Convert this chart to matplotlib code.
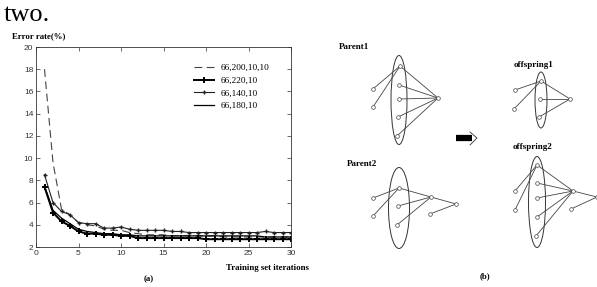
"""plot.py

Error rate vs training set iterations (a) and crossover sketch (b).
"""

import matplotlib

matplotlib.use("Agg")
import matplotlib.pyplot as plt
from matplotlib.patches import Ellipse

# ---- data for panel (a) ----
iterations = list(range(1, 31))
err_200_10_10 = [18.0, 9.6, 5.4, 4.9, 4.2, 4.0, 3.9, 3.6, 3.5, 3.5,
                 3.3, 3.2, 3.1, 3.1, 3.1, 3.0, 3.0, 3.0, 3.0, 3.0,
                 3.0, 2.9, 2.9, 2.9, 2.9, 2.9, 2.9, 2.9, 2.9, 2.9]
err_220_10 = [7.4, 5.1, 4.3, 3.9, 3.4, 3.2, 3.2, 3.1, 3.1, 3.0,
              3.0, 2.8, 2.8, 2.8, 2.8, 2.8, 2.8, 2.8, 2.8, 2.7,
              2.7, 2.7, 2.7, 2.7, 2.7, 2.7, 2.7, 2.7, 2.7, 2.7]
err_140_10 = [8.5, 6.0, 5.2, 4.9, 4.2, 4.1, 4.1, 3.7, 3.7, 3.8,
              3.6, 3.5, 3.5, 3.5, 3.5, 3.4, 3.4, 3.3, 3.3, 3.3,
              3.3, 3.3, 3.3, 3.3, 3.3, 3.3, 3.4, 3.3, 3.3, 3.3]
err_180_10 = [7.5, 5.3, 4.6, 4.1, 3.6, 3.4, 3.3, 3.2, 3.2, 3.1,
              3.1, 3.0, 3.0, 3.0, 3.0, 3.0, 3.0, 3.0, 3.0, 3.0,
              3.0, 3.0, 3.0, 3.0, 3.0, 3.0, 2.9, 2.9, 2.9, 2.9]
series_labels = ["66,200,10,10", "66,220,10", "66,140,10", "66,180,10"]
x_ticks = [0, 5, 10, 15, 20, 25, 30]
y_ticks = [2, 4, 6, 8, 10, 12, 14, 16, 18, 20]

# ---- data for panel (b): node positions (figure pixels) and edges ----
parent1_nodes = [(373, 89), (373, 107), (400, 66), (399, 85), (399, 99),
                 (398, 117), (397, 136), (438, 98)]
parent1_edges = [(0, 2), (1, 2), (2, 7), (3, 7), (4, 7), (5, 7), (6, 7)]
parent1_ellipse = (399, 100, 16, 89)

parent2_nodes = [(373, 198), (373, 216), (399, 188), (398, 206), (397, 225),
                 (431, 197), (456, 204), (430, 214)]
parent2_edges = [(0, 2), (1, 2), (2, 5), (3, 5), (4, 5), (5, 6), (7, 6)]
parent2_ellipse = (399, 208, 21, 81)

child1_nodes = [(515, 90), (514, 109), (541, 81), (540, 99), (539, 117),
                (570, 99)]
child1_edges = [(0, 2), (1, 2), (2, 5), (3, 5), (4, 5)]
child1_ellipse = (541, 100, 12, 56)

child2_nodes = [(515, 191), (515, 210), (537, 165), (537, 183), (537, 198),
                (537, 217), (536, 236), (573, 191), (571, 209), (597, 197)]
child2_edges = [(0, 2), (1, 2), (2, 7), (3, 7), (4, 7), (5, 7), (6, 7),
                (7, 9), (8, 9)]
child2_ellipse = (537, 202, 17, 91)

W, H = 597, 287
fig = plt.figure(figsize=(W / 100, H / 100), dpi=100)
fig.patch.set_facecolor("white")
serif = ["Liberation Serif", "DejaVu Serif"]
sans = ["Liberation Sans", "DejaVu Sans"]

# ---- panel (a) ----
ax = fig.add_axes([36 / W, 1 - 247 / H, 255 / W, 200 / H])
ax.plot(iterations, err_200_10_10, color="#444444", lw=0.8,
        dashes=(7, 4), label=series_labels[0])
ax.plot(iterations, err_220_10, color="black", lw=1.4, marker="+",
        ms=5, mew=1.4, label=series_labels[1])
ax.plot(iterations, err_140_10, color="#222222", lw=0.8, marker="+",
        ms=3, mew=1.0, label=series_labels[2])
ax.plot(iterations, err_180_10, color="black", lw=0.9,
        label=series_labels[3])
ax.set_xlim(0, 30)
ax.set_ylim(2, 20)
ax.set_xticks(x_ticks)
ax.set_yticks(y_ticks)
ax.tick_params(direction="in", top=True, right=True, length=3, width=0.5,
               labelsize=6, colors="#333333", pad=2)
for lab in ax.get_xticklabels() + ax.get_yticklabels():
    lab.set_family(sans)
for sp in ax.spines.values():
    sp.set_linewidth(0.6)
    sp.set_color("#333333")
ax.legend(loc="upper left", bbox_to_anchor=(0.60, 0.94), frameon=False,
          borderpad=0, handlelength=2.2, handletextpad=0.7,
          labelspacing=0.45, prop={"family": serif, "size": 6.7})

# ---- texts ----
fig.text(4, H - 21, "two.", transform=None, fontsize=19, family=serif)
fig.text(12 / W, 1 - 36 / H, "Error rate(%)", fontsize=6.3,
         fontweight="bold", family=serif, va="center")
fig.text(226 / W, 1 - 268 / H, "Training set iterations", fontsize=6.3,
         fontweight="bold", family=serif, va="center")
fig.text(149 / W, 1 - 279 / H, "(a)", fontsize=6.3, fontweight="bold",
         family=serif, va="center", ha="center")
fig.text(485 / W, 1 - 276 / H, "(b)", fontsize=6.3, fontweight="bold",
         family=serif, va="center", ha="center")
for name, (tx, ty) in {"Parent1": (339, 47), "Parent2": (347, 164),
                       "offspring1": (514, 65), "offspring2": (513, 147)}.items():
    fig.text(tx / W, 1 - ty / H, name, fontsize=6.5, fontweight="bold",
             family=serif, va="center")

# ---- panel (b) ----
axd = fig.add_axes([0, 0, 1, 1])
axd.set_xlim(0, W)
axd.set_ylim(H, 0)
axd.axis("off")
axd.patch.set_alpha(0)


def draw_net(nodes, edges, ellipse):
    cx, cy, ew, eh = ellipse
    axd.add_patch(Ellipse((cx, cy), ew, eh, fill=False, ec="#333333", lw=0.7))
    for a, b in edges:
        axd.plot([nodes[a][0], nodes[b][0]], [nodes[a][1], nodes[b][1]],
                 color="#444444", lw=0.6, zorder=2)
    xs = [p[0] for p in nodes]
    ys = [p[1] for p in nodes]
    axd.scatter(xs, ys, s=7, facecolor="white", edgecolor="#444444",
                linewidth=0.5, zorder=3)


draw_net(parent1_nodes, parent1_edges, parent1_ellipse)
draw_net(parent2_nodes, parent2_edges, parent2_ellipse)
draw_net(child1_nodes, child1_edges, child1_ellipse)
draw_net(child2_nodes, child2_edges, child2_ellipse)

# crossover arrow
axd.plot([456, 472], [138, 138], color="black", lw=4.5, solid_capstyle="butt")
axd.plot([470, 477, 470], [132, 138, 145], color="#333333", lw=0.6)

fig.savefig("out.png", dpi=100)
